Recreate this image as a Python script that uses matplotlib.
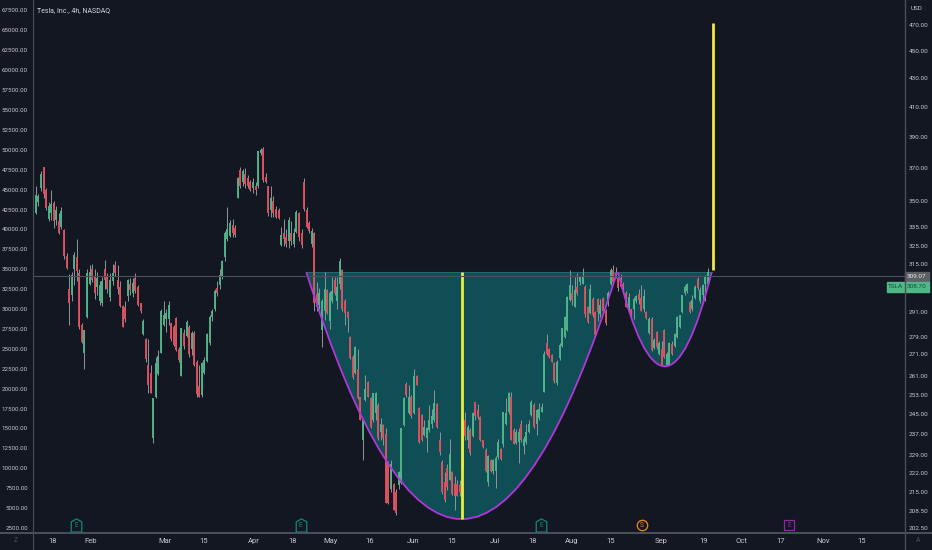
import numpy as np
import matplotlib
matplotlib.use("Agg")
import matplotlib.pyplot as plt
from matplotlib.lines import Line2D
from matplotlib.patches import PathPatch, Rectangle
from matplotlib.path import Path

plt.rcParams["font.family"] = ["Roboto", "DejaVu Sans"]

opens = [
    40, 42, 43.5, 45.2, 47.8, 45, 41.3, 42, 43.3, 41.2, 41,
    40.3, 39.9, 36.7, 32.5, 31.7, 35, 36.5, 34.5, 28, 24.5,
    29, 33.2, 35, 34, 32.8, 31, 30.8, 35, 34, 31.5, 33.5,
    35.5, 33.7, 32.8, 30.4, 30.3, 31.6, 33.2, 32, 33.9, 32.8, 30.7,
    26.8, 26.2, 23, 22, 13.8, 19, 21.8, 24.5, 28, 28.8,
    28.8, 28.2, 27.8, 28.9, 25, 21.6, 27, 26.6, 27.8, 25,
    27, 23.4, 20.3, 19.2, 22, 23.5, 25.7, 29, 30, 32.6,
    33, 34, 36.5, 38.8, 39.2, 40.6, 40.2, 43.9, 47.5, 45.9,
    47, 46.5, 46, 45.2, 45.5, 45.5, 49.6, 50.1, 46.6, 45.4, 42.5,
    43.6, 42.6, 42.4, 38, 39.6, 39, 38.5, 39.6, 38.2, 39.7,
    42, 39.6, 45.9, 42.5, 40.8, 38.2, 39.5, 31.9, 30.5, 27.4,
    29.8, 32.4, 28.5, 31, 33.6, 31, 33.2, 34.9, 31, 29.6,
    26.5, 24, 22, 22.5, 18.9, 13.5, 18.6, 20.8, 18.8, 16,
    16.9, 18, 14.5, 15.4, 14.3, 10.6, 7.4, 8, 7, 7.9, 8.1,
    15.4, 20.6, 16.9, 19, 16.9, 21.6, 17.6, 16.7, 14.2, 13.8,
    14.8, 15.6, 16, 18.1, 13.6, 10.8, 8.3, 10, 8.5, 9.5, 8,
    8, 7.9, 10.2, 16, 13.5, 14.8, 14, 18.3, 17.3, 16.4,
    13.5, 12.3, 8.3, 11, 9.7, 9.6, 11.4, 12.4, 13, 15.6,
    17, 19, 14.8, 13.2, 13.3, 15.6, 12.8, 13.3, 14.6, 16.7,
    18, 15.5, 16.3, 17.1, 19.6, 25.7, 25, 24.2, 23.2, 20.7,
    23.8, 25.3, 26.5, 27.3, 31.1, 32, 30.3, 32.8, 33.4, 33.2,
    32.8, 30.3, 29.5, 31.3, 29.6, 31.3, 29.4, 31.4, 29.8, 30.7,
    33.2, 34.9, 34.5, 33.9, 33.8, 33.2, 32, 30, 30, 30,
    31, 31.9, 31.4, 30, 29.6, 27, 28.8, 25.1, 27.1, 24.4,
    25, 27.4, 23, 23, 25.6, 25.4, 26.5, 27.8, 29.6, 32,
    32.2, 30.9, 30, 31.4, 33.8, 31, 31.7, 33.2, 33.2,
]
closes = [
    41.5, 44.3, 44.2, 47, 44.5, 42.7, 43, 43.2, 41, 42.4, 39.6,
    42.3, 36.6, 35.2, 30.7, 34.3, 36.8, 34.8, 27.8, 25.8, 27.4,
    34.5, 34.6, 33.7, 32, 33.9, 33, 33.5, 33.7, 32.5, 33.7, 34.5,
    34.5, 32.5, 30.4, 27.8, 28.7, 33.6, 32.4, 33.3, 32.2, 30.5, 29.7,
    28.5, 23.7, 20.5, 19.5, 18.8, 23.2, 24.1, 29.8, 29.2, 29.5,
    30.5, 26.2, 25.5, 24.9, 23.6, 27.6, 25.3, 28.4, 24.3, 27,
    23, 19.3, 19, 23.2, 23.6, 26.9, 29, 29.8, 32.3, 32,
    34.3, 36, 39.6, 40, 40.8, 39.5, 39.3, 46.5, 45.5, 47.3,
    45.7, 45.5, 45, 46, 45, 49.8, 50, 46.2, 45.9, 42, 44,
    42.1, 41.6, 41.4, 39.3, 38.8, 38.2, 41.2, 38.5, 39.6, 42.2,
    39, 38, 42.6, 40.3, 39.8, 39.8, 30.7, 30.3, 32, 31,
    32.5, 29.5, 32, 32.2, 32, 32.8, 36, 30, 29.5, 28.9,
    23.8, 21.4, 25.2, 18.8, 16, 16, 20, 19, 15.2, 19.4,
    19.5, 13.8, 15.6, 13.8, 5.6, 5.6, 10.5, 4.8, 4.4, 9.5, 15,
    18.8, 19.2, 19, 16.5, 21.6, 20.5, 13.3, 13.5, 15.2, 15,
    16, 16.6, 18.2, 15.2, 12, 7, 6, 7.7, 11.8, 6.8, 6.5,
    6.5, 7, 16, 14.1, 15.2, 11.9, 16.9, 16.5, 16.4, 13.5,
    12.7, 9.6, 11.5, 9.7, 11, 11.3, 13.3, 11.2, 17, 16.9,
    19.4, 13.6, 13.1, 14.6, 14.6, 13.5, 13.7, 14.6, 15.6, 18.3,
    15.2, 17.3, 17.4, 17.7, 24.4, 24.4, 24, 23.4, 20.9, 23.4,
    25.5, 27.6, 29, 31.5, 33, 31.1, 32.4, 32, 34, 34.1,
    29.4, 28.4, 32.5, 29.2, 26.7, 29.6, 30.5, 29.8, 28.2, 32,
    34.9, 33.4, 34, 32.7, 32.8, 32.6, 30.3, 31.5, 29.2, 31.2,
    31.6, 31.1, 29.8, 31.6, 28.9, 28.8, 24.8, 26.1, 25.2, 25.7,
    23, 24, 24.4, 25.7, 24.4, 26.9, 29, 29.2, 31.7, 32.8,
    33.2, 29.6, 31.1, 32.8, 32.6, 32.4, 33, 34.2, 34.6,
]
highs = [
    42.5, 45.4, 44.4, 47.3, 47.9, 45.2, 43.5, 45, 43.6, 42.9, 42,
    42.8, 40.1, 37, 34.4, 34.6, 37.2, 38.8, 35, 28.3, 27.4,
    35, 35.5, 35.6, 35, 34.6, 33.5, 34, 36.2, 34.5, 34.5, 35.6,
    36, 35.5, 33.5, 30.5, 31, 33.8, 33.9, 33.9, 34.5, 33, 30.8,
    28.7, 26.3, 26.2, 23, 18.8, 24, 24.8, 30, 31, 30,
    31, 28.3, 28, 29, 25.2, 27.6, 27.5, 28.6, 28, 27.2,
    27.2, 23.6, 23, 23.4, 24, 27, 29.2, 30, 32.5, 33.5,
    35, 36.2, 39.8, 42.8, 41.2, 41.3, 40.5, 46.6, 47.9, 47.6,
    47.7, 46.8, 46.2, 46.4, 46, 49.9, 50.2, 50.4, 47.1, 45.5, 45.4,
    44.2, 43, 42.7, 40.3, 41.3, 40, 41.6, 41, 40.2, 42.5,
    42.2, 40, 46.5, 42.8, 41, 40.2, 39.7, 33.4, 32.7, 31.2,
    34.6, 32.5, 32.3, 34, 34, 34, 36.4, 35, 31.2, 29.8,
    26.6, 24.2, 25.3, 25, 19, 16.2, 21.7, 21, 19, 19.5,
    19.6, 18.2, 16.3, 15.6, 15, 10.9, 11, 8.1, 7.4, 9.6, 15,
    19, 20.8, 20.5, 19.2, 22.4, 21.7, 17.7, 16.8, 16, 15.2,
    18, 17.4, 19.8, 18.2, 14.5, 11, 9.5, 10.5, 13.7, 9.7, 9,
    8.5, 8.5, 16, 17, 15.4, 15, 17, 18.2, 18.1, 16.6,
    13.6, 12.5, 11.6, 11.2, 11.2, 11.5, 13.7, 12.6, 17, 18.8,
    19.6, 19.6, 15, 14.9, 15.1, 16, 14, 15.5, 16, 18.6,
    18.2, 17.5, 18.2, 18.2, 24.7, 26.9, 25.1, 24.3, 23.3, 23.6,
    25.7, 27.6, 29.1, 31.6, 34.9, 33, 34, 34.5, 34.2, 35.2,
    33, 30.4, 33.2, 31.5, 29.8, 31.4, 31.3, 31.5, 30, 32.2,
    35.1, 35.5, 35.3, 34, 34.4, 33.4, 32.2, 32, 30, 31.5,
    31.8, 32.5, 33, 32.5, 29.8, 29, 29, 26.3, 27.2, 26,
    26, 27.5, 24.6, 25.8, 26, 27, 29.1, 29.3, 31.8, 33,
    33.3, 31, 31.8, 33, 34, 32.8, 33.2, 34.3, 35.1,
]
lows = [
    38.2, 41.9, 43, 44.8, 44, 42.5, 41, 41.2, 40.2, 40.6, 39.4,
    40, 36.3, 35, 28, 31, 33, 33.5, 27.5, 25.7, 22.4,
    28.9, 33, 33.4, 31.3, 31.8, 30.5, 30.4, 32.5, 32, 31, 33,
    34.2, 31.9, 30.3, 27.7, 28.4, 31, 31.7, 31.5, 32, 30.4, 29.5,
    26.7, 23.3, 19.5, 19.4, 13.2, 18.8, 21.7, 24.5, 27.9, 27.1,
    28, 26, 25.3, 24.7, 23.4, 21.6, 25, 26.5, 24, 24.2,
    22.8, 19, 18.9, 19, 21.8, 23.4, 25.5, 28.5, 29.8, 31.6,
    32.5, 33.8, 36, 38.5, 39, 39, 39, 43.9, 45.2, 45.4,
    45.2, 45.2, 44.8, 44.6, 44.3, 45.2, 49.4, 46, 45.8, 41.7, 41.6,
    41.5, 41.4, 41.3, 37.9, 37.9, 37.8, 37.7, 38, 37.8, 39.5,
    38.5, 37.7, 42.3, 40.2, 39.6, 37.8, 29.8, 29.8, 30, 25.2,
    28.6, 29.4, 27.5, 30.8, 31.8, 30, 32.5, 29.8, 28, 27.1,
    23.7, 21.2, 21.8, 18.7, 16, 11, 18.5, 18.9, 15, 15.8,
    16, 13.6, 13.5, 12.9, 5.6, 5.5, 7, 4.7, 4.1, 7.4, 8,
    15.3, 19, 16.8, 16.3, 16.8, 20.4, 13.2, 13.4, 14, 12,
    14.6, 15, 15.8, 15, 11.7, 6.8, 5.7, 7.3, 8.5, 6.6, 4.7,
    6.5, 6.5, 10, 13.5, 12.5, 11.7, 13.9, 16, 16.2, 13.4,
    12.6, 9.5, 7.8, 9.5, 9.3, 7.5, 11.2, 11, 12.7, 15.4,
    16.8, 13.5, 13, 13, 10.6, 13.3, 11.8, 13.1, 14.4, 16.5,
    15, 14.2, 16.1, 17, 19.6, 24.2, 23.9, 23.3, 20.7, 20.5,
    23.6, 25.2, 26.4, 27.2, 31, 30.5, 30.2, 31.8, 33, 33.1,
    29, 28.3, 29.4, 29, 26.5, 28.5, 29, 29.4, 28, 30.4,
    33, 33.2, 33.9, 32.2, 32.6, 32.3, 30.2, 29.6, 28.8, 28.8,
    30.7, 30.6, 29.7, 29.6, 28.7, 26.9, 24.7, 25, 25, 24.2,
    23, 23.8, 23, 23, 24.2, 25.2, 26.4, 27.6, 29.5, 31.8,
    32, 29.5, 29.8, 31.2, 32.4, 30.7, 31, 31, 33,
]

left_ticks = [2500, 5000, 7500, 10000, 12500, 15000, 17500, 20000, 22500, 25000, 27500, 30000, 32500,
              35000, 37500, 40000, 42500, 45000, 47500, 50000, 52500, 55000, 57500, 60000, 62500, 65000, 67500]
right_ticks = [202.5, 208.5, 215, 222, 229, 237, 245, 253, 261, 271, 279, 291, 315, 325, 335, 350,
               370, 390, 410, 430, 450, 470]
date_pos = [7.7, 22.6, 51.5, 66.8, 86.4, 101.6, 116.5, 131.8, 148.6, 163.9, 180.7, 195.6, 210.8, 226.1,
            245.7, 262.5, 277.3, 292.6, 309, 324.4]
date_labels = ["18", "Feb", "Mar", "15", "Apr", "18", "May", "16", "Jun", "15", "Jul", "18", "Aug", "15",
               "Sep", "19", "Oct", "17", "Nov", "15"]

# arcs: start, control, end (bar number / thousands)
cup_x = [106.9, 167.7, 228.5]
cup_y = [34.6, -27.4, 34.6]
handle_x = [228.9, 247.2, 265.5]
handle_y = [34.6, 11, 34.6]

# yellow measure lines (bar, bottom, top) in thousands
cup_line = [167.7, 3.6, 34.6]
target_line = [266.1, 34.9, 65.9]

earnings_x = [16.8, 104.7, 198.7]
split_x = 238.1
future_x = 295.8
last_close = 309.07

BG = "#131722"
GRID = "#4a4e59"
TXT = "#c4c7cf"
UP = "#4fb68b"
DOWN = "#e0505f"
WICK = "#8c979b"
W, H = 932, 550

fig = plt.figure(figsize=(W / 100, H / 100), dpi=100, facecolor=BG)
ax = fig.add_axes([33 / W, 1 - 533 / H, 871.5 / W, 533 / H], facecolor=BG)
ax.set_xlim(-0.12, 341)
ax.set_ylim(1860, 68819)

o = np.array(opens) * 1000
c = np.array(closes) * 1000
hi = np.array(highs) * 1000
lo = np.array(lows) * 1000
x = np.arange(len(o))
col = np.where(c >= o, UP, DOWN)


def arc(xs, ys, closed=True):
    verts = [(xs[0], ys[0] * 1000), (xs[1], ys[1] * 1000), (xs[2], ys[2] * 1000)]
    codes = [Path.MOVETO, Path.CURVE3, Path.CURVE3]
    if closed:
        verts.append(verts[0])
        codes.append(Path.CLOSEPOLY)
    return Path(verts, codes)


# cup and handle fill under the candles
for xs, ys in [(cup_x, cup_y), (handle_x, handle_y)]:
    ax.add_patch(PathPatch(arc(xs, ys), facecolor="#0f4e55", edgecolor="none", zorder=1))
    ax.plot([xs[0], xs[2]], [ys[0] * 1000, ys[2] * 1000], color="#1d6a6c", lw=0.8, zorder=1.5)

ax.vlines(x, lo, hi, colors=WICK, lw=0.7, zorder=2)
ax.vlines(x, np.minimum(o, c), np.maximum(o, c), colors=col, lw=1.35, zorder=3)

# only the curved part is stroked
for xs, ys in [(cup_x, cup_y), (handle_x, handle_y)]:
    ax.add_patch(PathPatch(arc(xs, ys, closed=False), facecolor="none", edgecolor="#b137d8", lw=1.3, zorder=4))

ax.vlines(cup_line[0], cup_line[1] * 1000, cup_line[2] * 1000, colors="#e9f03c", lw=2, zorder=5)
ax.vlines(target_line[0], target_line[1] * 1000, target_line[2] * 1000, colors="#f5e642", lw=2, zorder=5)

# event markers along the bottom
house = Path([(-0.8, -1), (0.8, -1), (0.8, 0.55), (0, 1), (-0.8, 0.55), (-0.8, -1)])
ev_y = 2864
for ex in earnings_x:
    ax.plot(ex, ev_y, marker=house, ms=9.5, mfc=BG, mec="#0f8a74", mew=0.9, zorder=6)
    ax.text(ex, ev_y, "E", color="#0f8a74", fontsize=4.8, ha="center", va="center", zorder=7)
ax.plot(split_x, ev_y, marker="o", ms=7.5, mfc=BG, mec="#e98b1d", mew=0.9, zorder=6)
ax.text(split_x, ev_y, "S", color="#e98b1d", fontsize=4.8, ha="center", va="center", zorder=7)
ax.plot(future_x, ev_y, marker="s", ms=6.8, mfc=BG, mec="#9325a8", mew=0.9, zorder=6)
ax.text(future_x, ev_y, "E", color="#9325a8", fontsize=4.8, ha="center", va="center", zorder=7)

# axes
ax.set_yticks(left_ticks)
ax.set_yticklabels(["%.2f" % v for v in left_ticks], fontsize=4.4, color=TXT)
ax.set_xticks(date_pos)
ax.set_xticklabels(date_labels, fontsize=5.5, color=TXT)
ax.tick_params(axis="y", length=0, pad=3.6)
ax.tick_params(axis="x", length=0, pad=3.6)
for s in ax.spines.values():
    s.set_visible(False)

ax2 = ax.twinx()
ax2.set_yscale("log")
ax2.set_ylim(200.8, 490.4)
ax2.set_yticks(right_ticks)
ax2.set_yticklabels(["%.2f" % v for v in right_ticks], fontsize=4.6, color=TXT)
ax2.minorticks_off()
ax2.tick_params(axis="y", which="both", length=0, pad=3)
for s in ax2.spines.values():
    s.set_visible(False)
ax2.axhline(last_close, color="#4a4f5a", lw=0.8, zorder=1)

# panel borders run on through the date strip
fig.add_artist(Line2D([0, 1], [1 - 533 / H] * 2, color="#50545f", lw=1.3))
fig.add_artist(Line2D([32.6 / W] * 2, [0, 1], color=GRID, lw=0.8))
fig.add_artist(Line2D([904.6 / W] * 2, [0, 1], color=GRID, lw=1.0))

# last price labels
fig.add_artist(Rectangle((905 / W, 1 - 281.5 / H), 24 / W, 9.5 / H, transform=fig.transFigure, color="#5c5f66"))
fig.add_artist(Rectangle((887 / W, 1 - 292 / H), 42 / W, 10 / H, transform=fig.transFigure, color="#4fb886"))
fig.text(917 / W, 1 - 276.8 / H, "309.07", color="#e8e8e8", fontsize=4.6, ha="center", va="center")
fig.text(895.5 / W, 1 - 287 / H, "TSLA", color="#14503c", fontsize=4.6, ha="center", va="center")
fig.text(917 / W, 1 - 287 / H, "308.70", color="#14503c", fontsize=4.6, ha="center", va="center")

fig.text(37 / W, 1 - 10.3 / H, "Tesla, Inc., 4h, NASDAQ", color="#d1d4dc", fontsize=5.0, ha="left", va="center")
fig.text(917 / W, 1 - 8 / H, "USD", color=TXT, fontsize=4.6, ha="center", va="center")
fig.text(16 / W, 1 - 541 / H, "Z", color="#4a4e59", fontsize=5, ha="center", va="center")
fig.text(918 / W, 1 - 541 / H, "A", color="#4a4e59", fontsize=5, ha="center", va="center")

fig.savefig("out.png", dpi=100, facecolor=BG)
